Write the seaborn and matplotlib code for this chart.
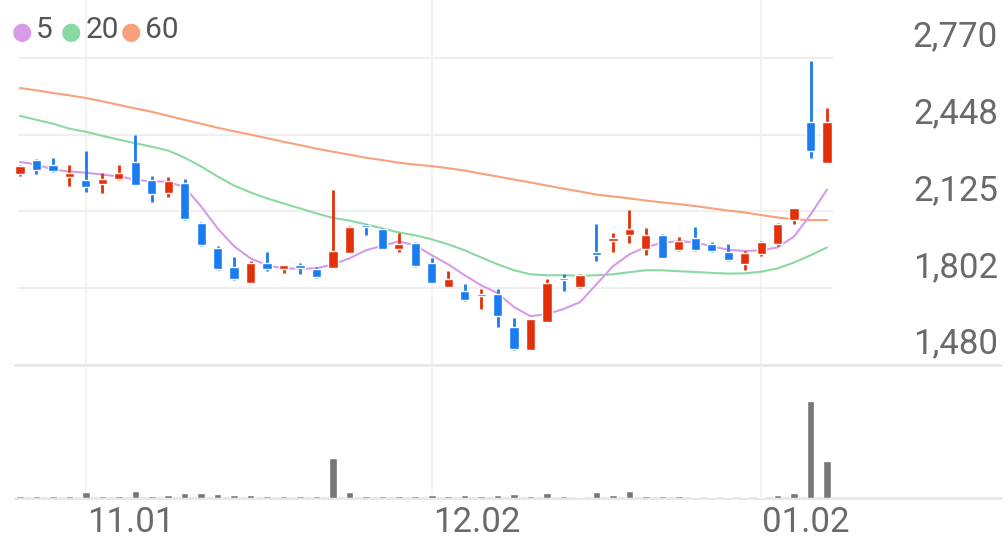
import numpy as np
import pandas as pd
import matplotlib
matplotlib.use("Agg")
import matplotlib.pyplot as plt
import seaborn as sns

# daily candles (50 trading days), prices in KRW
opens = [2283, 2343, 2322, 2270, 2256, 2241, 2262, 2334, 2256, 2203,
         2245, 2078, 1970, 1892, 1826, 1907, 1885, 1899, 1885, 1889,
         1952, 2068, 2050, 1966, 1994, 1910, 1808, 1791, 1770, 1777,
         1638, 1544, 1661, 1843, 1806, 1956, 2001, 2026, 1966, 2028,
         1962, 2015, 1987, 1956, 1903, 1948, 1990, 2089, 2503, 2329]
highs = [2322, 2346, 2350, 2319, 2378, 2287, 2319, 2445, 2276, 2270,
         2262, 2081, 1980, 1935, 1917, 1955, 1899, 1910, 1893, 2214,
         2066, 2074, 2057, 2036, 1997, 1931, 1875, 1822, 1801, 1801,
         1678, 1675, 1840, 1861, 1861, 2071, 2036, 2133, 2054, 2032,
         2017, 2061, 1998, 1987, 1959, 2001, 2078, 2141, 2759, 2559]
lows = [2276, 2281, 2291, 2234, 2208, 2203, 2259, 2235, 2167, 2187,
        2090, 1981, 1879, 1838, 1824, 1875, 1868, 1864, 1847, 1889,
        1949, 2025, 1966, 1955, 1893, 1824, 1806, 1747, 1715, 1638,
        1545, 1543, 1659, 1791, 1804, 1917, 1956, 1994, 1942, 1928,
        1959, 1959, 1956, 1917, 1878, 1938, 1980, 2071, 2350, 2329]
closes = [2318, 2301, 2294, 2285, 2230, 2263, 2287, 2238, 2199, 2252,
          2092, 1983, 1885, 1840, 1907, 1882, 1899, 1888, 1850, 1959,
          2061, 2061, 1969, 1987, 1896, 1826, 1843, 1754, 1777, 1687,
          1547, 1673, 1826, 1837, 1858, 1941, 2015, 2050, 2026, 1931,
          2001, 1962, 1959, 1920, 1952, 1996, 2071, 2138, 2378, 2499]
# volume, thousand shares
volumes = [230, 230, 230, 230, 570, 230, 230, 730, 230, 300,
           530, 530, 400, 300, 330, 230, 170, 170, 170, 3970,
           570, 230, 230, 170, 170, 270, 170, 300, 230, 270,
           400, 200, 500, 170, 100, 630, 330, 730, 170, 170,
           170, 130, 100, 100, 70, 100, 270, 470, 9670, 3670]
# moving averages as shown
ma5 = [2333, 2323, 2301, 2293, 2288, 2280, 2272, 2259, 2251, 2251,
       2226, 2146, 2054, 1979, 1928, 1899, 1886, 1885, 1886, 1903,
       1928, 1962, 1981, 1999, 1983, 1941, 1903, 1857, 1815, 1782,
       1723, 1685, 1694, 1715, 1744, 1819, 1895, 1945, 1976, 1993,
       2001, 1995, 1979, 1964, 1959, 1962, 1974, 2020, 2112, 2217]
ma20 = [2527, 2510, 2494, 2473, 2460, 2443, 2427, 2412, 2397, 2381,
        2351, 2314, 2272, 2234, 2205, 2180, 2159, 2138, 2117, 2098,
        2087, 2071, 2054, 2037, 2025, 2008, 1987, 1962, 1932, 1903,
        1878, 1861, 1857, 1857, 1855, 1857, 1861, 1870, 1878, 1878,
        1874, 1871, 1867, 1864, 1865, 1872, 1886, 1911, 1941, 1974]
ma60 = [2644, 2634, 2623, 2613, 2602, 2588, 2573, 2558, 2544, 2527,
        2510, 2494, 2477, 2462, 2448, 2433, 2418, 2404, 2389, 2376,
        2364, 2351, 2341, 2330, 2322, 2316, 2307, 2297, 2284, 2272,
        2259, 2247, 2234, 2221, 2209, 2196, 2188, 2180, 2171, 2163,
        2156, 2148, 2138, 2129, 2121, 2110, 2100, 2092, 2089, 2089]

price_ticks = [1480, 1802, 2125, 2448, 2770]
price_labels = ["1,480", "1,802", "2,125", "2,448", "2,770"]
date_ticks = [4, 25, 45]
date_labels = ["11.01", "12.02", "01.02"]
ma_names = ["5", "20", "60"]
ma_colors = ["#d69ae9", "#8ad9a2", "#f7a27c"]

UP, DOWN = "#e3300a", "#1a7cf0"
TXT = "#6a6a6a"
GRID = "#efefef"

sns.set_style("white")
plt.rcParams["font.family"] = ["Roboto", "DejaVu Sans"]

df = pd.DataFrame({"idx": np.arange(len(opens)), "open": opens, "high": highs,
                   "low": lows, "close": closes, "vol": volumes,
                   "ma5": ma5, "ma20": ma20, "ma60": ma60})
df["color"] = np.where(df["close"] >= df["open"], UP, DOWN)

W, H = 1008, 546
fig = plt.figure(figsize=(W / 100, H / 100), dpi=100)
ax = fig.add_axes([0, 1 - 365 / H, 1, 365 / H])
axv = fig.add_axes([0, 1 - 498 / H, 1, 132 / H])

step = 16.47
xlim = (-20 / step, (W - 20) / step)
for a in (ax, axv):
    a.set_xlim(*xlim)
    a.axis("off")
    for i in date_ticks:
        a.axvline(i, color="#f3f3f3", lw=1.5, zorder=0)

ax.set_ylim(1480, 1480 + 365 * 322.5 / 76.75)
axv.set_ylim(0, 13200)

# grid
ax.hlines(price_ticks[1:], -0.12, 49.36, color=GRID, lw=1.5, zorder=0)
ax.axhline(1480, color="#e8e8e8", lw=2, clip_on=False, xmin=0.015, xmax=0.993)
axv.axhline(0, color="#e6e6e6", lw=2, clip_on=False, xmin=0.015, xmax=0.993)

# moving averages
for col, c in zip(["ma60", "ma20", "ma5"], ma_colors[::-1]):
    sns.lineplot(data=df, x="idx", y=col, ax=ax, color=c, lw=1.5, zorder=2)

# candles
ax.vlines(df["idx"], df["low"], df["high"], colors=df["color"], lw=2, zorder=3)
body = (df["close"] - df["open"]).abs().clip(lower=7)
ax.bar(df["idx"], body, bottom=df[["open", "close"]].min(axis=1),
       width=0.56, color=df["color"], zorder=4)

# volume
axv.bar(df["idx"], df["vol"], width=0.46, color="#777777", zorder=2)

# y labels on the right
for t, lbl in zip(price_ticks, price_labels):
    ax.annotate(lbl, (1, t), xycoords=("axes fraction", "data"),
                xytext=(-10 * 0.72, 21 * 0.72), textcoords="offset points",
                ha="right", va="center", fontsize=25, color=TXT,
                annotation_clip=False)

# date labels
for i, lbl in zip(date_ticks, date_labels):
    axv.annotate(lbl, (i, 0), xytext=(1 * 0.72, -25 * 0.72),
                 textcoords="offset points", ha="left", va="center",
                 fontsize=25, color=TXT, annotation_clip=False)

# legend
for x0, name, c in zip([21.7, 70.7, 130.7], ma_names, ma_colors):
    fig.text(x0 / W, 1 - 31.5 / H, "\u25cf", color=c, fontsize=17,
             ha="center", va="center", family=["DejaVu Sans"])
    fig.text((x0 + 14.5) / W, 1 - 30 / H, name, color="#555555",
             fontsize=21.5, ha="left", va="center")

fig.savefig("out.png", dpi=100)
